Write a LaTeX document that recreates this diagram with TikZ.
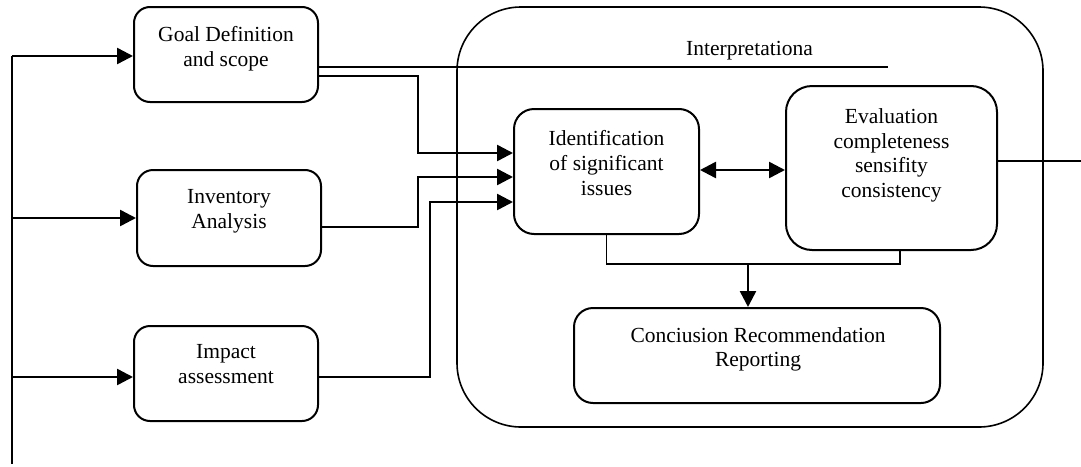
\documentclass[tikz,border=0pt]{standalone}
\usepackage{fontspec}
\setmainfont{Liberation Serif}
\usetikzlibrary{arrows.meta}
\tikzset{
  box/.style={draw, line width=2pt, inner sep=0pt},
  lbl/.style={anchor=north, inner sep=0pt, align=center, font=\fontsize{21.5}{24.6}\selectfont},
  conn/.style={line width=2.5pt},
  arr/.style={line width=2.5pt, -{Triangle[length=16pt,width=16pt]}},
  dbl/.style={line width=2.5pt, {Triangle[length=16pt,width=16pt]}-{Triangle[length=16pt,width=16pt]}},
  thinline/.style={line width=1.7pt}
}
\begin{document}
\begin{tikzpicture}[x=1pt,y=-1pt]
\useasboundingbox (0,0) rectangle (1081,466);
% boxes
\node[box, line width=1.6pt, rounded corners=64pt, minimum width=586pt, minimum height=420pt] (big) at (750,217) {};
\node[box, rounded corners=16pt, minimum width=184pt, minimum height=95pt] (goal) at (226,54.5) {};
\node[box, rounded corners=16pt, minimum width=184pt, minimum height=96pt] (inv) at (229,218) {};
\node[box, rounded corners=16pt, minimum width=184pt, minimum height=95pt] (imp) at (226,373.5) {};
\node[box, rounded corners=20pt, minimum width=185pt, minimum height=125pt] (iden) at (606.5,171.5) {};
\node[box, rounded corners=26pt, minimum width=211pt, minimum height=164pt] (eval) at (891.5,168) {};
\node[box, rounded corners=19pt, minimum width=366pt, minimum height=95pt] (conc) at (757,355.5) {};
% texts
\node[lbl] (goalt) at (226,26.5) {Goal Definition\\and scope};
\node[lbl] (invt) at (229,189.5) {Inventory\\Analysis};
\node[lbl] (impt) at (226,344.5) {Impact\\assessment};
\node[lbl] (ident) at (606.5,130.5) {Identification\\of significant\\issues};
\node[lbl] (evalt) at (891.5,108.5) {Evaluation\\completeness\\sensifity\\consistency};
\node[lbl] (conct) at (758,327) {Conciusion Recommendation\\Reporting};
\node[lbl] (interp) at (749.5,41.5) {Interpretationa};
% helper coordinates
\coordinate (ttop) at (12,56);
\coordinate (tbot) at (12,464);
\coordinate (t2) at (12,218);
\coordinate (t3) at (12,377);
\coordinate (ly) at (0,67);
\coordinate (lend) at (888,67);
\coordinate (gy) at (0,76);
\coordinate (iy) at (0,227);
\coordinate (my) at (0,377);
\coordinate (i1) at (0,153);
\coordinate (i2) at (0,177);
\coordinate (i3) at (0,202);
\coordinate (dy) at (0,170);
\coordinate (bj) at (748,264);
\coordinate (ej) at (900,0);
\coordinate (ry) at (0,161);
\coordinate (rend) at (1081,161);
% left trunk
\draw[conn] (ttop) -- (tbot);
\draw[arr] (ttop) -- (ttop -| goal.west);
\draw[arr] (t2) -- (t2 -| inv.west);
\draw[arr] (t3) -- (t3 -| imp.west);
% interpretation line
\draw[thinline] (goal.east |- ly) -- (lend);
% inputs to identification
\draw[arr] (goal.east |- gy) -- ++(99,0) |- (iden.west |- i1);
\draw[arr] (inv.east |- iy) -- ++(96,0) |- (iden.west |- i2);
\draw[arr] (imp.east |- my) -- ++(111,0) |- (iden.west |- i3);
% double arrow
\draw[dbl] (iden.east |- dy) -- (eval.west |- dy);
% bottom join
\draw[thinline] (iden.south) |- (bj) -| (eval.south -| ej);
\draw[arr] (bj) -- (conc.north -| bj);
% right line
\draw[thinline] (eval.east |- ry) -- (rend);
\end{tikzpicture}
\end{document}
